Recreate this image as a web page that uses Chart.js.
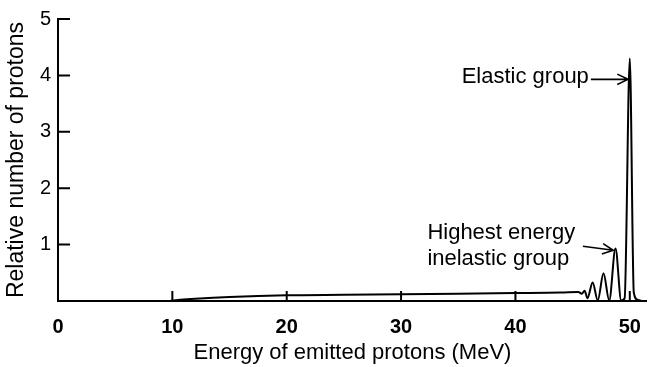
<!DOCTYPE html>
<html>
<head>
<meta charset="utf-8">
<script src="https://cdn.jsdelivr.net/npm/chart.js@4.4.1/dist/chart.umd.min.js"></script>
<style>
  html, body { margin: 0; padding: 0; background: #fff; }
  #wrap { width: 655px; height: 367px; }
</style>
</head>
<body>
<div id="wrap"><canvas id="chart"></canvas></div>
<script>
// proton energy spectrum
const energies = [9.8, 10.5, 12, 15, 20, 25, 30, 35, 40, 44, 45.5, 45.8, 46.05, 46.3, 46.75, 47.2,
  47.7, 48.2, 48.75, 49.25, 49.55, 50.0, 50.35, 50.7, 51.1];
const counts = [0, 0.02, 0.04, 0.07, 0.1, 0.11, 0.12, 0.13, 0.14, 0.15, 0.16, 0.13, 0.18, 0.05, 0.33, 0.01,
  0.49, 0.01, 0.93, 0.01, 0.05, 4.3, 0.15, 0.02, 0];

const xTicks = [0, 10, 20, 30, 40, 50];
const yTicks = [1, 2, 3, 4, 5];

// annotations: text lines, text anchor (data coords), arrow start and tip (data coords)
const noteLines = [['Elastic group'], ['Highest energy', 'inelastic group']];
const noteAnchor = [[35.3, 3.97], [32.3, 0.97]];
const arrowFrom = [[46.6, 3.93], [45.9, 0.97]];
const arrowTo = [[49.85, 3.93], [48.55, 0.9]];

const FONT = '"Liberation Sans", Arial, sans-serif';

const inwardTicks = {
  id: 'inwardTicks',
  afterDraw(chart) {
    const { ctx, scales: { x, y } } = chart;
    ctx.save();
    ctx.strokeStyle = '#000';
    ctx.lineWidth = 2;
    ctx.beginPath();
    xTicks.forEach(v => {
      if (v === 0) return;
      const px = x.getPixelForValue(v);
      ctx.moveTo(px, y.getPixelForValue(0));
      ctx.lineTo(px, y.getPixelForValue(0) - 10);
    });
    yTicks.forEach(v => {
      const py = y.getPixelForValue(v);
      ctx.moveTo(x.getPixelForValue(0), py);
      ctx.lineTo(x.getPixelForValue(0) + 12, py);
    });
    ctx.stroke();

    // annotation text
    ctx.fillStyle = '#000';
    ctx.font = '22px ' + FONT;
    ctx.textBaseline = 'middle';
    ctx.textAlign = 'left';
    noteLines.forEach((lines, i) => {
      const tx = x.getPixelForValue(noteAnchor[i][0]);
      const ty = y.getPixelForValue(noteAnchor[i][1]);
      const n = lines.length;
      lines.forEach((t, j) => {
        ctx.fillText(t, tx, ty + (j - (n - 1) / 2) * 26);
      });
    });

    // arrows with open heads
    ctx.lineWidth = 1.6;
    arrowFrom.forEach((f, i) => {
      const x1 = x.getPixelForValue(f[0]), y1 = y.getPixelForValue(f[1]);
      const x2 = x.getPixelForValue(arrowTo[i][0]), y2 = y.getPixelForValue(arrowTo[i][1]);
      const a = Math.atan2(y2 - y1, x2 - x1);
      ctx.beginPath();
      ctx.moveTo(x1, y1);
      ctx.lineTo(x2, y2);
      ctx.moveTo(x2 - 12 * Math.cos(a - 0.45), y2 - 12 * Math.sin(a - 0.45));
      ctx.lineTo(x2, y2);
      ctx.lineTo(x2 - 12 * Math.cos(a + 0.45), y2 - 12 * Math.sin(a + 0.45));
      ctx.stroke();
    });
    ctx.restore();
  }
};

new Chart(document.getElementById('chart'), {
  type: 'line',
  data: {
    datasets: [{
      data: energies.map((e, i) => ({ x: e, y: counts[i] })),
      borderColor: '#000',
      borderWidth: 2,
      pointRadius: 0,
      fill: false,
      cubicInterpolationMode: 'monotone'
    }]
  },
  options: {
    responsive: true,
    maintainAspectRatio: false,
    animation: false,
    layout: { padding: { top: 13, right: 3, left: 0, bottom: 0 } },
    plugins: { legend: { display: false }, tooltip: { enabled: false } },
    scales: {
      x: {
        type: 'linear',
        min: 0,
        max: 51.5,
        afterBuildTicks: s => { s.ticks = xTicks.map(v => ({ value: v })); },
        afterFit: s => { s.height = 66; },
        grid: { display: false, drawTicks: false },
        border: { display: true, color: '#000', width: 2 },
        ticks: { color: '#000', padding: 14, font: { family: FONT, size: 20, weight: 'bold' } },
        title: {
          display: true,
          text: 'Energy of emitted protons (MeV)',
          color: '#000',
          padding: { top: 0, bottom: 1 },
          font: { family: FONT, size: 22 }
        }
      },
      y: {
        min: 0,
        max: 5,
        afterBuildTicks: s => { s.ticks = yTicks.map(v => ({ value: v })); },
        afterFit: s => { s.width = 58; },
        grid: { display: false, drawTicks: false },
        border: { display: true, color: '#000', width: 2 },
        ticks: { color: '#000', padding: 7, font: { family: FONT, size: 20 } },
        title: {
          display: true,
          text: 'Relative number of protons',
          color: '#000',
          padding: { top: 3, bottom: 0 },
          font: { family: FONT, size: 23 }
        }
      }
    }
  },
  plugins: [inwardTicks]
});
</script>
</body>
</html>
